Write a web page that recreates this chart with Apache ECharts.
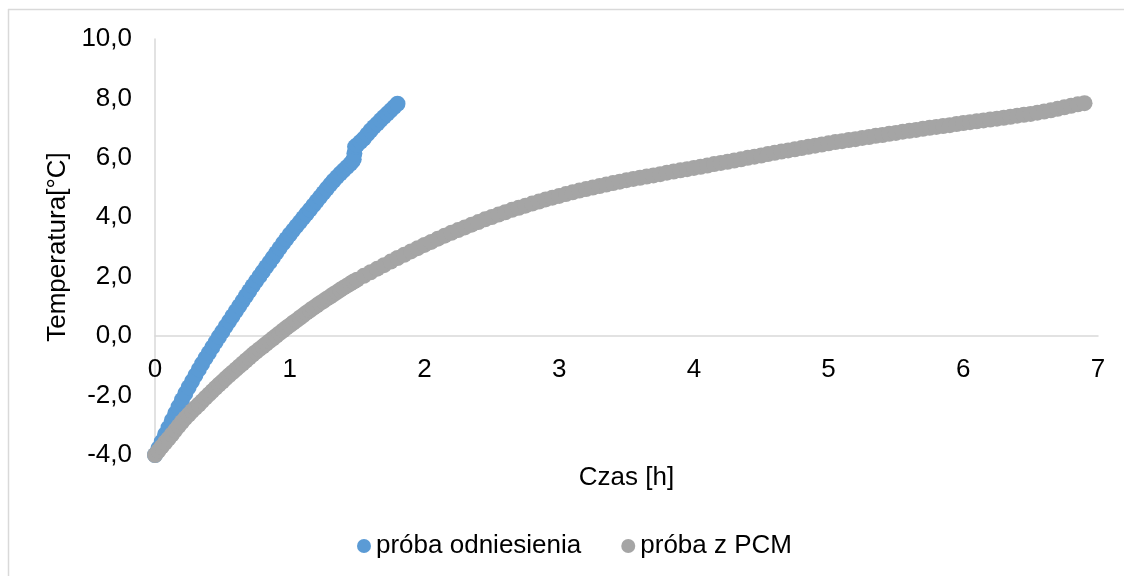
<!DOCTYPE html>
<html>
<head>
<meta charset="utf-8">
<script src="https://cdn.jsdelivr.net/npm/echarts@6/dist/echarts.min.js"></script>
<style>
html,body{margin:0;padding:0;background:#fff;}
#chart{width:1124px;height:576px;}
</style>
</head>
<body>
<div id="chart"></div>
<script>
// Series names
var seriesNames = ['próba odniesienia', 'próba z PCM'];

// próba odniesienia: time [h]
var refTime = [0.000,0.025,0.050,0.075,0.100,0.125,0.150,0.175,0.200,0.225,0.250,0.275,0.300,0.325,0.350,0.375,0.400,0.425,0.450,0.475,
0.500,0.525,0.550,0.575,0.600,0.625,0.650,0.675,0.700,0.725,0.750,0.775,0.800,0.825,0.850,0.875,0.900,0.925,0.950,0.975,
1.000,1.025,1.050,1.075,1.100,1.125,1.150,1.175,1.200,1.225,1.250,1.275,1.300,1.325,1.350,1.375,1.400,1.425,1.450,1.465,
1.475,1.480,1.485,1.500,1.525,1.550,1.575,1.600,1.625,1.650,1.675,1.700,1.725,1.750,1.775,1.800];
// próba odniesienia: temperature [°C]
var refTemp = [-4.00,-3.78,-3.55,-3.31,-3.08,-2.84,-2.60,-2.37,-2.15,-1.93,-1.72,-1.52,-1.32,-1.12,-0.93,-0.74,-0.56,-0.38,-0.20,-0.02,
0.15,0.33,0.50,0.67,0.84,1.01,1.18,1.35,1.52,1.69,1.85,2.01,2.17,2.33,2.48,2.64,2.80,2.96,3.12,3.27,
3.42,3.56,3.70,3.84,3.98,4.12,4.26,4.40,4.54,4.68,4.82,4.96,5.10,5.23,5.35,5.47,5.58,5.69,5.80,5.88,
5.95,6.15,6.37,6.43,6.54,6.65,6.79,6.92,7.04,7.15,7.27,7.38,7.49,7.60,7.71,7.82];

// próba z PCM: time [h]
var pcmTime = [0.000,0.025,0.050,0.075,0.100,0.125,0.150,0.175,0.200,0.225,0.250,0.275,0.300,0.325,0.350,0.375,0.400,0.425,0.450,0.475,
0.500,0.525,0.550,0.575,0.600,0.625,0.650,0.675,0.700,0.725,0.750,0.775,0.800,0.825,0.850,0.875,0.900,0.925,0.950,0.975,
1.000,1.025,1.050,1.075,1.100,1.125,1.150,1.175,1.200,1.225,1.250,1.275,1.300,1.325,1.350,1.375,1.400,1.425,1.450,1.475,
1.50,1.55,1.60,1.65,1.70,1.75,1.80,1.85,1.90,1.95,
2.00,2.05,2.10,2.15,2.20,2.25,2.30,2.35,2.40,2.45,2.50,2.55,2.60,2.65,2.70,2.75,2.80,2.85,2.90,2.95,
3.00,3.05,3.10,3.15,3.20,3.25,3.30,3.35,3.40,3.45,3.50,3.55,3.60,3.65,3.70,3.75,3.80,3.85,3.90,3.95,
4.00,4.05,4.10,4.15,4.20,4.25,4.30,4.35,4.40,4.45,4.50,4.55,4.60,4.65,4.70,4.75,4.80,4.85,4.90,4.95,
5.00,5.05,5.10,5.15,5.20,5.25,5.30,5.35,5.40,5.45,5.50,5.55,5.60,5.65,5.70,5.75,5.80,5.85,5.90,5.95,
6.00,6.05,6.10,6.15,6.20,6.25,6.30,6.35,6.40,6.45,6.50,6.55,6.60,6.65,6.70,6.75,6.80,6.85,6.90];
// próba z PCM: temperature [°C]
var pcmTemp = [-4.00,-3.86,-3.72,-3.58,-3.45,-3.31,-3.17,-3.03,-2.89,-2.76,-2.64,-2.52,-2.41,-2.30,-2.19,-2.07,-1.96,-1.85,-1.74,-1.63,
-1.53,-1.42,-1.32,-1.22,-1.12,-1.02,-0.92,-0.82,-0.72,-0.62,-0.53,-0.44,-0.35,-0.26,-0.17,-0.08,0.01,0.10,0.19,0.28,
0.36,0.45,0.53,0.62,0.70,0.79,0.87,0.95,1.03,1.11,1.18,1.26,1.33,1.41,1.48,1.56,1.63,1.70,1.77,1.84,
1.90,2.03,2.15,2.27,2.39,2.51,2.63,2.74,2.85,2.96,
3.07,3.17,3.28,3.38,3.48,3.57,3.66,3.75,3.84,3.93,4.01,4.09,4.17,4.25,4.32,4.39,4.46,4.53,4.60,4.66,
4.72,4.78,4.84,4.90,4.95,5.00,5.05,5.10,5.15,5.20,5.25,5.29,5.33,5.37,5.41,5.45,5.50,5.54,5.58,5.62,
5.66,5.70,5.74,5.79,5.83,5.87,5.91,5.95,6.00,6.04,6.08,6.13,6.17,6.21,6.25,6.29,6.33,6.37,6.41,6.45,
6.49,6.53,6.56,6.60,6.63,6.67,6.70,6.74,6.77,6.81,6.84,6.88,6.91,6.94,6.98,7.01,7.04,7.07,7.10,7.14,
7.17,7.20,7.23,7.26,7.29,7.32,7.35,7.38,7.42,7.45,7.48,7.52,7.56,7.60,7.65,7.70,7.75,7.80,7.84];

// Axis settings
var xMin = 0, xMax = 7, xStep = 1;
var yMin = -4, yMax = 10, yStep = 2;
var xTitle = 'Czas [h]';
var yTitle = 'Temperatura[°C]';

function pairs(xs, ys) {
  var out = [];
  for (var i = 0; i < xs.length; i++) out.push([xs[i], ys[i]]);
  return out;
}

var FONT = 'Liberation Sans';
var FS = 26;
var gridTop = 39, gridBottom = 121, H = 576;
var plotH = H - gridTop - gridBottom;
// move the horizontal axis up to the y = 0 level
var xOffset = -plotH * (0 - yMin) / (yMax - yMin);

var chart = echarts.init(document.getElementById('chart'), null, {renderer: 'canvas'});
chart.setOption({
  animation: false,
  backgroundColor: '#ffffff',
  textStyle: {fontFamily: FONT},
  graphic: [
    {type: 'line', shape: {x1: 8, y1: 9.5, x2: 1124, y2: 9.5}, style: {stroke: '#d9d9d9', lineWidth: 1.5}},
    {type: 'line', shape: {x1: 8.5, y1: 9, x2: 8.5, y2: 576}, style: {stroke: '#d9d9d9', lineWidth: 1.5}}
  ],
  grid: {left: 155, right: 26, top: gridTop, bottom: gridBottom, containLabel: false, outerBoundsMode: 'none'},
  legend: {
    top: 533,
    left: 357,
    data: seriesNames,
    icon: 'circle',
    itemWidth: 14,
    itemHeight: 14,
    itemGap: 40,
    textStyle: {fontFamily: FONT, fontSize: FS, color: '#000'},
    padding: 0
  },
  xAxis: {
    type: 'value',
    min: xMin, max: xMax, interval: xStep,
    position: 'bottom',
    offset: xOffset,
    axisLine: {show: true, onZero: false, lineStyle: {color: '#d9d9d9', width: 1.5}},
    axisTick: {show: false},
    splitLine: {show: false},
    axisLabel: {fontFamily: FONT, fontSize: FS, color: '#000', margin: 21},
    name: xTitle,
    nameLocation: 'middle',
    nameGap: 129,
    nameTextStyle: {fontFamily: FONT, fontSize: FS, color: '#000'}
  },
  yAxis: {
    type: 'value',
    min: yMin, max: yMax, interval: yStep,
    axisLine: {show: true, onZero: false, lineStyle: {color: '#d9d9d9', width: 1.5}},
    axisTick: {show: false},
    splitLine: {show: false},
    axisLabel: {
      fontFamily: FONT, fontSize: FS, color: '#000', margin: 23,
      formatter: function (v) { return v.toFixed(1).replace('.', ','); }
    },
    name: yTitle,
    nameLocation: 'middle',
    nameRotate: 90,
    nameGap: 83,
    nameTextStyle: {fontFamily: FONT, fontSize: FS, color: '#000'}
  },
  series: [
    {
      name: seriesNames[0],
      type: 'scatter',
      symbol: 'circle',
      symbolSize: 16,
      itemStyle: {color: '#5b9bd5', opacity: 1},
      data: pairs(refTime, refTemp),
      z: 3
    },
    {
      name: seriesNames[1],
      type: 'scatter',
      symbol: 'circle',
      symbolSize: 16,
      itemStyle: {color: '#a5a5a5', opacity: 1},
      data: pairs(pcmTime, pcmTemp),
      z: 4
    }
  ]
});
</script>
</body>
</html>
